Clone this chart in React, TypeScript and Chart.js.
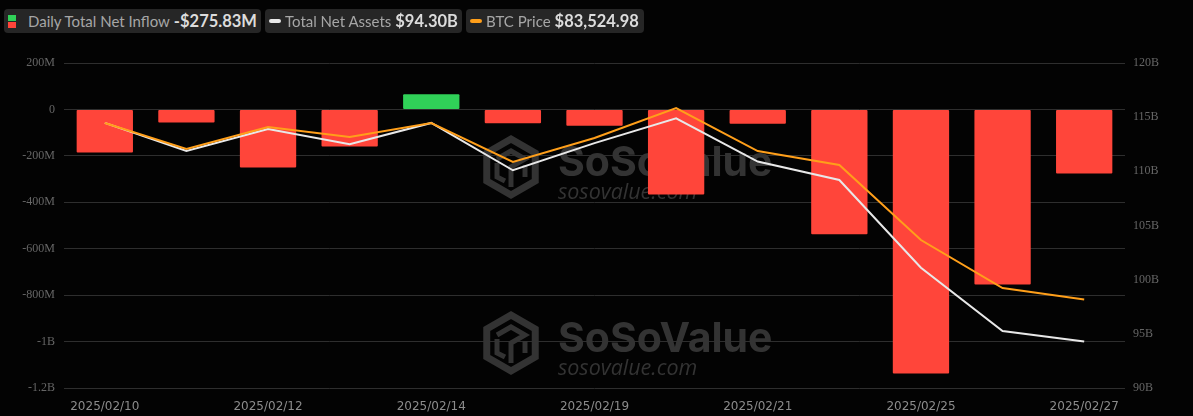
import { useEffect, useRef } from 'react';
import { Chart, registerables } from 'chart.js';

Chart.register(...registerables);

const dates = [
  '2025/02/10', '2025/02/11', '2025/02/12', '2025/02/13', '2025/02/14', '2025/02/18', '2025/02/19',
  '2025/02/20', '2025/02/21', '2025/02/24', '2025/02/25', '2025/02/26', '2025/02/27',
];
const netInflow = [-185, -56, -250, -160, 65, -60, -70, -366, -62, -538, -1137, -754, -275.83];
const netAssets = [114.47, 111.88, 113.9, 112.5, 114.47, 110.1, 112.6, 114.9, 110.9, 109.2, 101.1, 95.26, 94.3];
const btcPrice = [97536, 95472, 97218, 96424, 97536, 94440, 96345, 98726, 95313, 94202, 88248, 84438, 83524.98];

const GREEN = '#30d158';
const RED = '#ff453a';
const WHITE = '#e8e8e8';
const ORANGE = '#ff9f1a';

const formatFlow = (v: number) => {
  if (v === 0) return '0';
  const abs = Math.abs(v);
  const text = abs >= 1000 ? `${abs / 1000}B` : `${abs}M`;
  return v < 0 ? `-${text}` : text;
};

// logo + name, sits under the bars
const drawMark = (ctx: CanvasRenderingContext2D, x: number, y: number) => {
  ctx.save();
  ctx.strokeStyle = '#333333';
  ctx.lineWidth = 7;
  ctx.lineJoin = 'miter';
  const r = 28;
  const cx = x + 28;
  const cy = y + 32;
  ctx.beginPath();
  for (let i = 0; i < 6; i++) {
    const a = Math.PI / 6 + (i * Math.PI) / 3;
    const px = cx + r * Math.cos(a);
    const py = cy + r * Math.sin(a);
    if (i === 0) ctx.moveTo(px, py);
    else ctx.lineTo(px, py);
  }
  ctx.closePath();
  ctx.stroke();
  ctx.lineWidth = 5;
  ctx.beginPath();
  ctx.moveTo(cx - 14, cy - 8);
  ctx.lineTo(cx, cy - 16);
  ctx.lineTo(cx + 14, cy - 8);
  ctx.lineTo(cx, cy);
  ctx.lineTo(cx, cy + 20);
  ctx.moveTo(cx - 14, cy - 4);
  ctx.lineTo(cx - 14, cy + 10);
  ctx.lineTo(cx - 6, cy + 14);
  ctx.moveTo(cx + 14, cy - 2);
  ctx.lineTo(cx + 14, cy + 10);
  ctx.stroke();
  ctx.fillStyle = '#333333';
  ctx.textBaseline = 'alphabetic';
  ctx.textAlign = 'left';
  ctx.font = 'bold 41px Inter';
  ctx.fillText('SoSoValue', x + 75, y + 41);
  ctx.font = 'italic 21.5px "Open Sans"';
  ctx.fillText('sosovalue.com', x + 75, y + 64);
  ctx.restore();
};

const watermark = {
  id: 'watermark',
  beforeDatasetsDraw(chart: Chart) {
    drawMark(chart.ctx, 483, 135);
    drawMark(chart.ctx, 483, 311);
  },
};

const pill = {
  position: 'absolute' as const,
  top: 9,
  height: 24,
  background: '#262626',
  borderRadius: 4,
  display: 'flex',
  alignItems: 'center',
  fontFamily: 'Lato',
  whiteSpace: 'nowrap' as const,
  boxSizing: 'border-box' as const,
};
const labelStyle = { fontSize: 15, color: '#a6a6a6' };
const valueStyle = { fontSize: 16.5, fontWeight: 700, color: '#dcdcdc', marginLeft: 4 };
const dash = (color: string) => ({
  width: 12,
  height: 4,
  borderRadius: 2,
  background: color,
  marginRight: 4,
});

export default function App() {
  const chartRef = useRef<HTMLCanvasElement>(null);

  useEffect(() => {
    document.body.style.margin = '0';
    document.body.style.background = '#030303';
    if (!chartRef.current) return;

    const chart = new Chart(chartRef.current, {
      type: 'bar',
      data: {
        labels: dates,
        datasets: [
          {
            type: 'bar',
            label: 'Daily Total Net Inflow',
            data: netInflow,
            yAxisID: 'y',
            backgroundColor: netInflow.map((v) => (v >= 0 ? GREEN : RED)),
            borderRadius: 1,
            borderSkipped: false,
            barPercentage: 0.69,
            categoryPercentage: 1,
            order: 3,
          },
          {
            type: 'line',
            label: 'Total Net Assets',
            data: netAssets,
            yAxisID: 'y1',
            borderColor: WHITE,
            borderWidth: 2,
            pointRadius: 0,
            tension: 0,
            order: 2,
          },
          {
            type: 'line',
            label: 'BTC Price',
            data: btcPrice,
            yAxisID: 'y2',
            borderColor: ORANGE,
            borderWidth: 2,
            pointRadius: 0,
            tension: 0,
            order: 1,
          },
        ],
      },
      options: {
        animation: false,
        responsive: false,
        layout: { padding: { top: 63, bottom: 0, left: 0, right: 0 } },
        plugins: { legend: { display: false }, tooltip: { enabled: false } },
        scales: {
          x: {
            grid: { display: false },
            border: { display: false },
            ticks: {
              autoSkip: false,
              maxRotation: 0,
              padding: 4,
              color: '#8c8c8c',
              font: { family: 'DejaVu Sans', size: 12 },
              callback: (_v, i) => (i % 2 === 0 ? dates[i] : ''),
            },
            afterFit: (axis) => {
              axis.height = 28;
            },
          },
          y: {
            position: 'left',
            min: -1200,
            max: 200,
            grid: { color: '#2e2e2e', lineWidth: 1, drawTicks: false },
            border: { display: false },
            ticks: {
              stepSize: 200,
              padding: 9,
              color: '#666666',
              font: { family: 'Liberation Serif', size: 12 },
              callback: (v) => formatFlow(Number(v)),
            },
            afterFit: (axis) => {
              axis.width = 64;
            },
          },
          y1: {
            position: 'right',
            min: 90,
            max: 120,
            grid: { display: false, drawTicks: false },
            border: { display: false },
            ticks: {
              stepSize: 5,
              padding: 8,
              color: '#666666',
              font: { family: 'Liberation Serif', size: 12 },
              callback: (v) => `${v}B`,
            },
            afterFit: (axis) => {
              axis.width = 68;
            },
          },
          y2: {
            display: false,
            min: 76500,
            max: 102300,
          },
        },
      },
      plugins: [watermark],
    });

    return () => chart.destroy();
  }, []);

  return (
    <div style={{ position: 'relative', width: 1193, height: 416, background: '#030303', overflow: 'hidden' }}>
      <canvas ref={chartRef} width={1193} height={416} style={{ display: 'block' }} />
      <div style={{ ...pill, left: 4, width: 257 }}>
        <div style={{ width: 8, height: 13, marginLeft: 4, marginRight: 12 }}>
          <div style={{ height: 6, background: GREEN }} />
          <div style={{ height: 6, marginTop: 1, background: RED }} />
        </div>
        <span style={labelStyle}>Daily Total Net Inflow</span>
        <span style={valueStyle}>-$275.83M</span>
      </div>
      <div style={{ ...pill, left: 265, width: 197, paddingLeft: 4 }}>
        <div style={dash(WHITE)} />
        <span style={labelStyle}>Total Net Assets</span>
        <span style={valueStyle}>$94.30B</span>
      </div>
      <div style={{ ...pill, left: 466, width: 178, paddingLeft: 4 }}>
        <div style={dash(ORANGE)} />
        <span style={labelStyle}>BTC Price</span>
        <span style={valueStyle}>$83,524.98</span>
      </div>
    </div>
  );
}
